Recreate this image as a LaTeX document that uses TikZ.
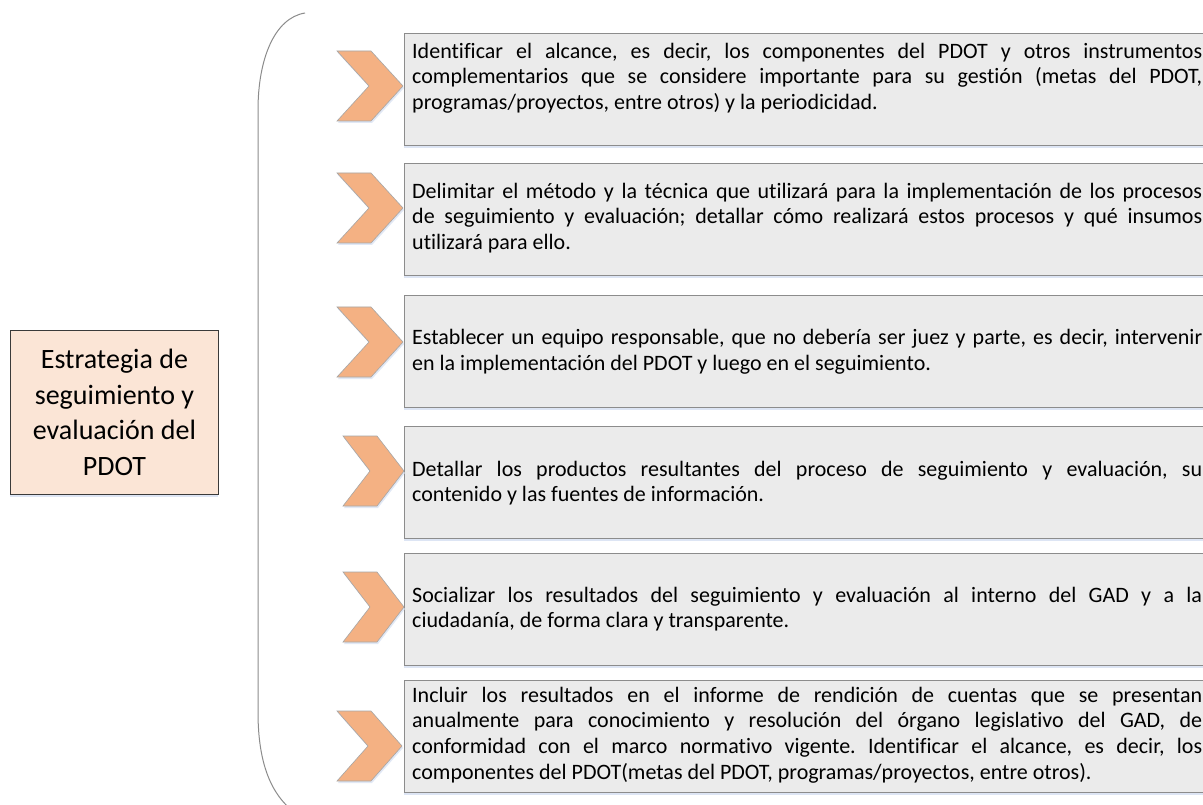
\documentclass[tikz,border=0pt]{standalone}
\usepackage{fontspec}
\setmainfont{Carlito}[Ligatures=CommonOff]
\usetikzlibrary{shadows}
\setlength{\parindent}{0pt}
\frenchspacing
\definecolor{chevfill}{HTML}{F4B183}
\definecolor{chevline}{HTML}{A6A6A6}
\definecolor{boxfill}{HTML}{EBEBEB}
\definecolor{boxline}{HTML}{8C8C8C}
\definecolor{mainfill}{HTML}{FBE5D6}
\definecolor{mainline}{HTML}{3A3A3A}
\definecolor{bracecol}{HTML}{8C8C8C}
\definecolor{shadowcol}{HTML}{DAE3F3}
\tikzset{
  itembox/.style={draw=boxline, line width=0.9pt, fill=boxfill, anchor=north west,
    minimum width=820pt, minimum height=112pt, inner sep=0pt,
    drop shadow={shadow xshift=0pt, shadow yshift=-3pt, fill=shadowcol, opacity=0.9}},
  itemtext/.style={anchor=west, text width=790pt, align=justify, inner sep=0pt,
    font=\fontsize{22}{25.6}\selectfont},
  mainbox/.style={draw=mainline, line width=0.9pt, fill=mainfill, anchor=north west,
    minimum width=208pt, minimum height=164pt, inner sep=0pt, align=center,
    font=\fontsize{28}{35.6}\selectfont,
    drop shadow={shadow xshift=0pt, shadow yshift=-3pt, fill=shadowcol, opacity=0.9}},
  chevstyle/.style={draw=chevline, line width=0.6pt, fill=chevfill,
    drop shadow={shadow xshift=1pt, shadow yshift=-2pt, fill=shadowcol, opacity=0.8}},
  bracestyle/.style={draw=bracecol, line width=1pt}
}
\newcommand{\chevat}[3]{%
  \path[chevstyle] (#1,#2) -- ++(34,0) -- ++(#3-34,35) -- ++(34-#3,35) -- ++(-34,0) -- ++(#3-34,-35) -- cycle;}
\begin{document}
\begin{tikzpicture}[x=1pt,y=-1pt]
\useasboundingbox (0,0) rectangle (1203,805);
\fill[white] (0,0) rectangle (1203,805);

% main box
\node[mainbox] (main) at (10,330) {Estrategia de\\seguimiento y\\evaluación del\\PDOT};

% brace
\draw[bracestyle] (305,13) .. controls (274,18) and (258,60) .. (258,110)
  -- (258,712) .. controls (258,765) and (272,795) .. (294,812);

% item boxes
\node[itembox] (b1) at (404,33) {};
\node[itembox] (b2) at (404,163) {};
\node[itembox] (b3) at (404,295) {};
\node[itembox] (b4) at (404,426) {};
\node[itembox] (b5) at (404,553) {};
\node[itembox] (b6) at (404,680) {};

% chevrons
\chevat{337}{51}{66}
\chevat{337}{173}{66}
\chevat{337}{307}{66}
\chevat{343}{436}{61}
\chevat{343}{572}{61}
\chevat{337}{711}{65}

% texts
\node[itemtext] (t1) at (412,78) {Identificar el alcance, es decir, los componentes del PDOT y otros instrumentos\linebreak complementarios que se considere importante para su gestión (metas del PDOT,\linebreak programas/proyectos, entre otros) y la periodicidad.};
\node[itemtext] (t2) at (412,218) {Delimitar el método y la técnica que utilizará para la implementación de los procesos\linebreak de seguimiento y evaluación; detallar cómo realizará estos procesos y qué insumos\linebreak utilizará para ello.};
\node[itemtext] (t3) at (412,352) {Establecer un equipo responsable, que no debería ser juez y parte, es decir, intervenir\linebreak en la implementación del PDOT y luego en el seguimiento.};
\node[itemtext] (t4) at (412,483) {Detallar los productos resultantes del proceso de seguimiento y evaluación, su\linebreak contenido y las fuentes de información.};
\node[itemtext] (t5) at (412,609) {Socializar los resultados del seguimiento y evaluación al interno del GAD y a la\linebreak ciudadanía, de forma clara y transparente.};
\node[itemtext] (t6) at (412,735) {Incluir los resultados en el informe de rendición de cuentas que se presentan\linebreak anualmente para conocimiento y resolución del órgano legislativo del GAD, de\linebreak conformidad con el marco normativo vigente. Identificar el alcance, es decir, los\linebreak componentes del PDOT(metas del PDOT, programas/proyectos, entre otros).};
\end{tikzpicture}
\end{document}
